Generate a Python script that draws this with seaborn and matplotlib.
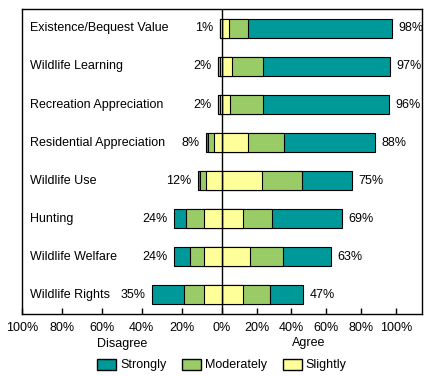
import numpy as np
import pandas as pd
import seaborn as sns
import matplotlib
matplotlib.use("Agg")
import matplotlib.pyplot as plt
from matplotlib.patches import Patch
from matplotlib.ticker import FuncFormatter

# survey answers, percent of respondents
categories = ["Existence/Bequest Value", "Wildlife Learning", "Recreation Appreciation",
              "Residential Appreciation", "Wildlife Use", "Hunting",
              "Wildlife Welfare", "Wildlife Rights"]
dis_strong = [0, 0, 0, 1, 1, 6, 8, 16]
dis_mod = [0, 1, 1, 3, 3, 9, 7, 10]
dis_slight = [1, 1, 1, 4, 8, 9, 9, 9]
agr_slight = [4, 6, 5, 15, 23, 12, 16, 12]
agr_mod = [11, 18, 19, 21, 23, 17, 19, 16]
agr_strong = [83, 73, 72, 52, 29, 40, 28, 19]
tick_values = [-100, -80, -60, -40, -20, 0, 20, 40, 60, 80, 100]

TEAL = "#009999"
GREEN = "#99CC66"
YELLOW = "#FFFF99"

sns.set_style("ticks")
plt.rcParams["font.family"] = ["Liberation Sans", "DejaVu Sans"]
plt.rcParams["font.size"] = 9
plt.rcParams["text.color"] = "black"
plt.rcParams["axes.labelcolor"] = "black"
plt.rcParams["xtick.color"] = "black"

df = pd.DataFrame({
    "category": categories,
    "ds": dis_strong, "dm": dis_mod, "dsl": dis_slight,
    "asl": agr_slight, "am": agr_mod, "ast": agr_strong,
})
df["dis_total"] = df["ds"] + df["dm"] + df["dsl"]
df["agr_total"] = df["asl"] + df["am"] + df["ast"]

fig = plt.figure(figsize=(4.41, 3.76), dpi=100)
ax = fig.add_axes([21.7 / 441, 62 / 376, 400 / 441, 304.7 / 376])

# overlay cumulative bars, widest first, so each layer shows as a segment
layers = [
    (df["agr_total"], TEAL),
    (df["asl"] + df["am"], GREEN),
    (df["asl"], YELLOW),
    (-df["dis_total"], TEAL),
    (-(df["dsl"] + df["dm"]), GREEN),
    (-df["dsl"], YELLOW),
]
for vals, col in layers:
    sns.barplot(x=vals, y=df["category"], color=col, saturation=1, width=0.5,
                edgecolor="black", linewidth=0.8, orient="h", ax=ax)

# the agree side of the original is drawn a bit narrower than the disagree side
k = 0.87
ax.set_xscale("function", functions=(lambda v: np.where(v > 0, v * k, v),
                                     lambda v: np.where(v > 0, v / k, v)))
ax.set_xlim(-100, 100 / k)
ax.set_ylim(7.5, -0.5)

ax.axvline(0, color="black", lw=1, zorder=5)

for i, row in df.iterrows():
    ax.annotate(f"{row['dis_total']}%", (-row["dis_total"], i), xytext=(-4.5, 0),
                textcoords="offset points", ha="right", va="center")
    ax.annotate(f"{row['agr_total']}%", (row["agr_total"], i), xytext=(4.5, 0),
                textcoords="offset points", ha="left", va="center")
    ax.text(0.021, i, row["category"], transform=ax.get_yaxis_transform(),
            ha="left", va="center")

ax.set_xticks(tick_values)
ax.xaxis.set_major_formatter(FuncFormatter(lambda v, p: f"{abs(v):.0f}%"))
ax.tick_params(axis="x", direction="in", length=4, width=1, pad=6,
               colors="black", labelcolor="black")
ax.set_yticks([])
ax.set_xlabel("")
ax.set_ylabel("")
for s in ax.spines.values():
    s.set_visible(True)
    s.set_color("black")
    s.set_linewidth(1)

fig.text(121.7 / 441, 1 - 344 / 376, "Disagree", ha="center", va="center")
fig.text(308.7 / 441, 1 - 343 / 376, "Agree", ha="center", va="center")

handles = [Patch(facecolor=TEAL, edgecolor="black", label="Strongly"),
           Patch(facecolor=GREEN, edgecolor="black", label="Moderately"),
           Patch(facecolor=YELLOW, edgecolor="black", label="Slightly")]
fig.legend(handles=handles, loc="center", bbox_to_anchor=(222 / 441, 1 - 365 / 376),
           ncol=3, frameon=False, handlelength=1.5, handleheight=1.0,
           handletextpad=0.3, columnspacing=1.3, borderpad=0)

fig.savefig("out.png", dpi=100)
